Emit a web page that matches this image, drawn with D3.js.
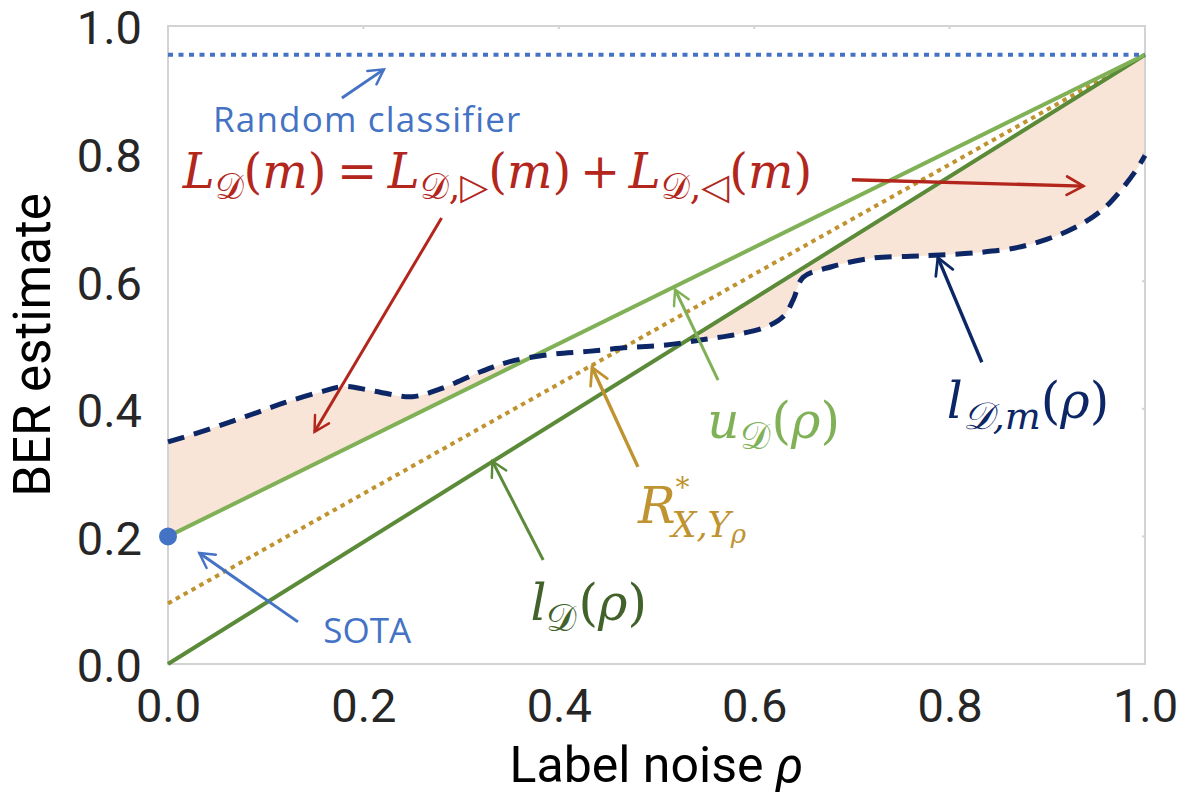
<!DOCTYPE html>
<html><head><meta charset="utf-8">
<script src="https://cdn.jsdelivr.net/npm/d3@7"></script>
<style>
html,body{margin:0;padding:0;background:#fff;}
svg{display:block;}
</style></head>
<body>
<svg id="chart" width="1186" height="800"></svg>
<script>
// ---------------- data ----------------
const xTicks = [0, 0.2, 0.4, 0.6, 0.8, 1.0];
const yTicks = [0, 0.2, 0.4, 0.6, 0.8, 1.0];
const xTitle = "Label noise ";
const yTitle = "BER estimate";

// straight reference lines, defined at rho = 0 and rho = 1
const lineRho = [0, 1];
const uD = [0.2, 0.955];        // u_D(rho)
const lD = [0.0, 0.955];        // l_D(rho)
const Rstar = [0.095, 0.955];   // R*_{X,Y_rho}
const randomClassifier = [0.955, 0.955];

// l_{D,m}(rho) dashed curve
const rho = [0, 0.04, 0.08, 0.12, 0.16, 0.18, 0.21, 0.25, 0.28, 0.32, 0.35, 0.39, 0.43, 0.47, 0.51,
             0.55, 0.58, 0.61, 0.63, 0.64, 0.65, 0.68, 0.72, 0.76, 0.79, 0.83, 0.87, 0.90, 0.92, 0.94, 0.96, 0.975, 0.99, 1.0];
const lDm = [0.348, 0.367, 0.388, 0.410, 0.428, 0.435, 0.428, 0.419, 0.432, 0.458, 0.474, 0.485, 0.490, 0.496, 0.500,
             0.509, 0.516, 0.527, 0.545, 0.571, 0.606, 0.623, 0.636, 0.639, 0.641, 0.645, 0.653, 0.666, 0.678, 0.694, 0.717, 0.742, 0.772, 0.797];

const sota = [0, 0.2];

// ---------------- setup ----------------
const svg = d3.select("#chart");
const x = d3.scaleLinear().domain([0, 1]).range([168, 1145]);
const y = d3.scaleLinear().domain([0, 1]).range([664, 26]);

const C = {
  blue: "#4472C4", light: "#80B156", dark: "#5B8A39", darkText: "#41622A",
  gold: "#BF932F", navy: "#0D2766", red: "#B3261C", fill: "#F8E5D8", grid: "#D3D3D3", axis: "#262626"
};
const axisFont = "Roboto, 'Liberation Sans', sans-serif";

const defs = svg.append("defs");
const aboveU = d3.area().x((d, i) => x(lineRho[i])).y0(y(1.05)).y1((d) => y(d));
const belowL = d3.area().x((d, i) => x(lineRho[i])).y0(y(-0.05)).y1((d) => y(d));
defs.append("clipPath").attr("id", "clipAboveU").append("path").attr("d", aboveU(uD));
defs.append("clipPath").attr("id", "clipBelowL").append("path").attr("d", belowL(lD));

function marker(id, color) {
  defs.append("marker").attr("id", id).attr("viewBox", "0 0 12 12")
    .attr("refX", 10.5).attr("refY", 6).attr("markerWidth", 6.5).attr("markerHeight", 6.5)
    .attr("orient", "auto").attr("markerUnits", "strokeWidth")
    .append("path").attr("d", "M1.5,1 L10.5,6 L1.5,11").attr("fill", "none")
    .attr("stroke", color).attr("stroke-width", 1.5).attr("stroke-linecap", "round").attr("stroke-linejoin", "miter");
}
marker("aBlue", C.blue); marker("aRed", C.red); marker("aLight", C.light);
marker("aDark", C.dark); marker("aGold", C.gold); marker("aNavy", C.navy);

// ---------------- shading ----------------
const curve = d3.curveCatmullRom.alpha(0.5);
const areaDown = d3.area().x((d, i) => x(rho[i])).y0(y(-0.05)).y1(d => y(d)).curve(curve);
const areaUp = d3.area().x((d, i) => x(rho[i])).y0(y(1.05)).y1(d => y(d)).curve(curve);
svg.append("path").attr("d", areaDown(lDm)).attr("fill", C.fill).attr("clip-path", "url(#clipAboveU)");
svg.append("path").attr("d", areaUp(lDm)).attr("fill", C.fill).attr("clip-path", "url(#clipBelowL)");

// ---------------- frame & axes ----------------
svg.append("rect").attr("x", x(0)).attr("y", y(1)).attr("width", x(1) - x(0)).attr("height", y(0) - y(1))
  .attr("fill", "none").attr("stroke", C.grid).attr("stroke-width", 2);
svg.append("g").selectAll("line").data(xTicks.slice(1, -1)).join("line")
  .attr("x1", d => x(d)).attr("x2", d => x(d)).attr("y1", y(1)).attr("y2", y(1) + 3).attr("stroke", C.grid).attr("stroke-width", 2);
svg.append("g").selectAll("line").data(yTicks.slice(1, -1)).join("line")
  .attr("x1", x(1)).attr("x2", x(1) - 3).attr("y1", d => y(d)).attr("y2", d => y(d)).attr("stroke", C.grid).attr("stroke-width", 2);

const fmt = d3.format(".1f");
const gx = svg.append("g").attr("transform", `translate(0,${y(0)})`)
  .call(d3.axisBottom(x).tickValues(xTicks).tickFormat(fmt).tickSize(0));
gx.select(".domain").remove();
gx.selectAll("text").attr("y", 58).attr("dy", 0).attr("font-family", axisFont)
  .attr("font-size", 47).attr("fill", C.axis);

const gy = svg.append("g").attr("transform", `translate(${x(0)},0)`)
  .call(d3.axisLeft(y).tickValues(yTicks).tickFormat(fmt).tickSize(0));
gy.select(".domain").remove();
gy.selectAll("text").attr("x", -26).attr("dy", "0.38em").attr("font-family", axisFont)
  .attr("font-size", 47).attr("fill", C.axis);

const xt = svg.append("text").attr("x", (x(0) + x(1)) / 2).attr("y", 782).attr("text-anchor", "middle")
  .attr("font-family", axisFont).attr("font-size", 50).attr("fill", "#000");
xt.append("tspan").text(xTitle);
xt.append("tspan").attr("font-style", "italic").text("ρ");

svg.append("text").attr("transform", `translate(50,${(y(0) + y(1)) / 2}) rotate(-90)`).attr("text-anchor", "middle")
  .attr("font-family", axisFont).attr("font-size", 51).attr("fill", "#000").text(yTitle);

// ---------------- lines ----------------
const straight = d3.line().x((d, i) => x(lineRho[i])).y(d => y(d));
svg.append("path").attr("d", straight(Rstar)).attr("fill", "none").attr("stroke", C.gold)
  .attr("stroke-width", 4).attr("stroke-dasharray", "4.5,4.5");
svg.append("path").attr("d", straight(lD)).attr("fill", "none").attr("stroke", C.dark).attr("stroke-width", 4);
svg.append("path").attr("d", straight(uD)).attr("fill", "none").attr("stroke", C.light).attr("stroke-width", 4);
svg.append("path").attr("d", straight(randomClassifier)).attr("fill", "none").attr("stroke", C.blue)
  .attr("stroke-width", 4).attr("stroke-dasharray", "5,5.5");

const curveLine = d3.line().x((d, i) => x(rho[i])).y(d => y(d)).curve(curve);
svg.append("path").attr("d", curveLine(lDm)).attr("fill", "none").attr("stroke", C.navy)
  .attr("stroke-width", 5).attr("stroke-dasharray", "17,10");

svg.append("circle").attr("cx", x(sota[0])).attr("cy", y(sota[1])).attr("r", 9).attr("fill", C.blue);

// ---------------- annotations ----------------
function arrow(p0, p1, color, id, w) {
  svg.append("line").attr("x1", x(p0[0])).attr("y1", y(p0[1])).attr("x2", x(p1[0])).attr("y2", y(p1[1]))
    .attr("stroke", color).attr("stroke-width", w || 3).attr("marker-end", `url(#${id})`);
}
arrow([0.178, 0.887], [0.221, 0.932], C.blue, "aBlue");
arrow([0.280, 0.699], [0.150, 0.364], C.red, "aRed");
arrow([0.700, 0.759], [0.937, 0.749], C.red, "aRed", 3.4);
arrow([0.563, 0.445], [0.519, 0.587], C.light, "aLight");
arrow([0.481, 0.309], [0.434, 0.465], C.gold, "aGold", 3.4);
arrow([0.384, 0.163], [0.332, 0.318], C.dark, "aDark");
arrow([0.833, 0.473], [0.788, 0.637], C.navy, "aNavy", 3.4);
arrow([0.133, 0.066], [0.032, 0.174], C.blue, "aBlue");

const sansAnn = "'Open Sans', sans-serif";
svg.append("text").attr("x", x(0.046)).attr("y", y(0.834)).attr("font-family", sansAnn)
  .attr("font-size", 35).attr("letter-spacing", 1.2).attr("fill", C.blue).text("Random classifier");
svg.append("text").attr("x", x(0.159)).attr("y", y(0.033)).attr("font-family", sansAnn)
  .attr("font-size", 35).attr("fill", C.blue).text("SOTA");

const mathFont = "'DejaVu Serif', 'Liberation Serif', serif";
function mathLabel(px, py, parts, size, color) {
  const t = svg.append("text").attr("font-family", mathFont).attr("fill", color);
  let cx = px, prevStart = px;
  parts.forEach(p => {
    if (p.gap) { cx += p.gap * size; return; }
    const lvl = p.l || 0;
    const fs = size * (p.fs || (lvl === 0 ? 1 : lvl === 2 ? 0.52 : 0.76));
    const shift = size * (p.sh !== undefined ? p.sh : (lvl === 1 ? 0.22 : lvl === 2 ? 0.36 : lvl === -1 ? -0.5 : 0));
    const start = p.stack ? prevStart : cx;
    const ts = t.append("tspan").attr("x", start + (p.dx || 0) * size).attr("y", py + shift)
      .attr("font-size", fs).attr("font-style", p.i ? "italic" : "normal").text(p.t);
    const w = ts.node().getComputedTextLength() + (p.dx || 0) * size;
    prevStart = start;
    cx = p.stack ? Math.max(cx, start + w) : start + w;
  });
  return t;
}
const D = "𝒟";
mathLabel(x(0.015), y(0.746), [
  {t: "L", i: 1}, {t: D, l: 1}, {t: "("}, {t: "m", i: 1}, {t: ")"}, {gap: 0.22}, {t: "="}, {gap: 0.22},
  {t: "L", i: 1}, {t: D + ",▷", l: 1}, {t: "("}, {t: "m", i: 1}, {t: ")"}, {gap: 0.18}, {t: "+"}, {gap: 0.18},
  {t: "L", i: 1}, {t: D + ",◁", l: 1}, {t: "("}, {t: "m", i: 1}, {t: ")"}
], 48, C.red);

mathLabel(x(0.552), y(0.354), [{t: "u", i: 1}, {t: D, l: 1}, {gap: 0.04}, {t: "("}, {t: "ρ", i: 1}, {t: ")"}], 50, C.light);
mathLabel(x(0.481), y(0.221), [{t: "R", i: 1}, {t: "*", l: -1, fs: 0.56, sh: -0.52},
  {t: "X,Y", i: 1, l: 1, fs: 0.7, sh: 0.28, stack: true, dx: -0.08}, {t: "ρ", i: 1, l: 2, sh: 0.4}], 50, C.gold);
mathLabel(x(0.371), y(0.069), [{t: "l", i: 1}, {t: D, l: 1}, {gap: 0.04}, {t: "("}, {t: "ρ", i: 1}, {t: ")"}], 50, C.darkText);
mathLabel(x(0.797), y(0.386), [{t: "l", i: 1}, {t: D + ",m", l: 1, i: 1}, {t: "("}, {t: "ρ", i: 1}, {t: ")"}], 50, C.navy);
</script>
</body></html>
